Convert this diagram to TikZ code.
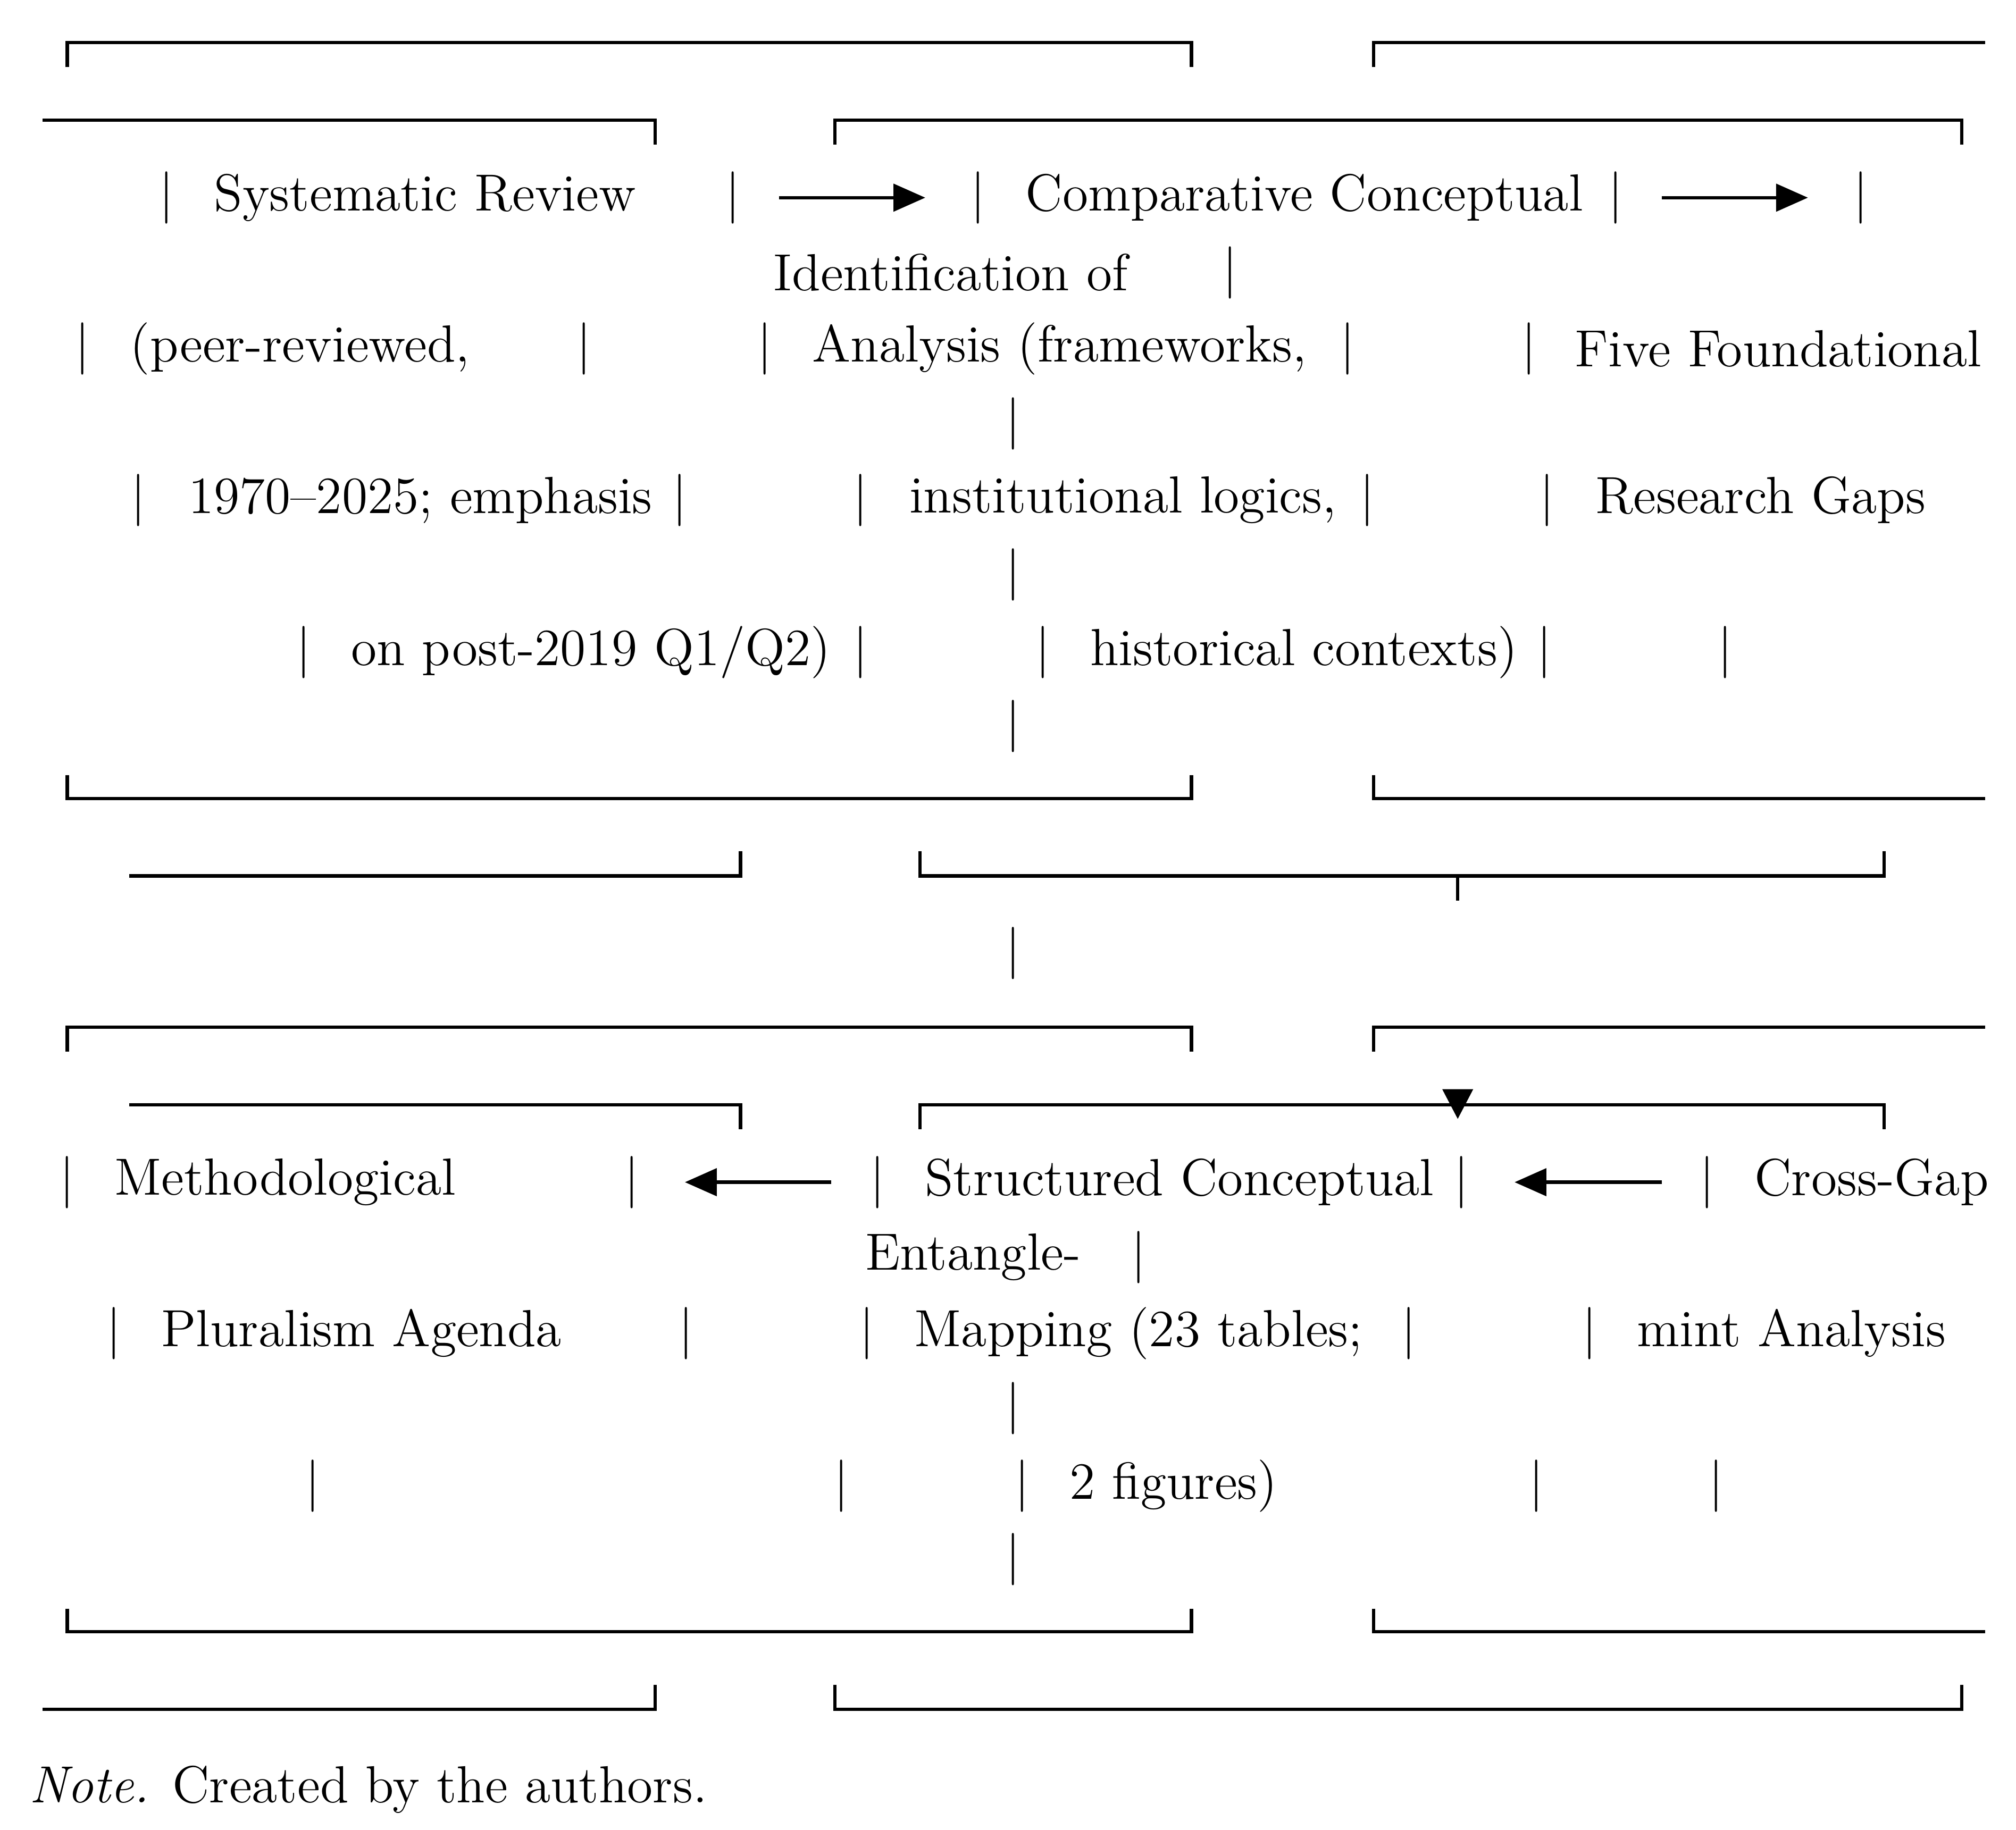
\documentclass[tikz,border=0pt]{standalone}
\usetikzlibrary{arrows.meta}
\tikzset{
  rule/.style={line width=0.75pt},
  txt/.style={anchor=west, inner sep=0pt, font=\fontsize{11.5}{13}\selectfont},
  bar/.style={inner sep=0pt, font=\fontsize{11.5}{13}\selectfont},
  flow/.style={line width=0.75pt, -{Triangle[length=7pt,width=6pt]}}
}
\begin{document}
\begin{tikzpicture}[x=0.01cm, y=-0.01cm]
\useasboundingbox (0,0) rectangle (1560,1416);

% bracket rules, top block
\draw[rule] (52,52) -- (52,33) -- (922,33) -- (922,52);
\draw[rule] (1063,52) -- (1063,33) -- (1536,33);
\draw[rule] (33,93) -- (507,93) -- (507,112);
\draw[rule] (646,112) -- (646,93) -- (1518,93) -- (1518,112);
\draw[rule] (52,600) -- (52,618) -- (922,618) -- (922,600);
\draw[rule] (1063,600) -- (1063,618) -- (1536,618);
\draw[rule] (100,678) -- (573,678) -- (573,659);
\draw[rule] (712,659) -- (712,678) -- (1458,678) -- (1458,659);
\draw[rule] (1128,678) -- (1128,697);

% bracket rules, bottom block
\draw[rule] (52,814) -- (52,795) -- (922,795) -- (922,814);
\draw[rule] (1063,814) -- (1063,795) -- (1536,795);
\draw[rule] (100,855) -- (573,855) -- (573,874);
\draw[rule] (712,874) -- (712,855) -- (1458,855) -- (1458,874);
\draw[rule] (52,1245) -- (52,1263) -- (922,1263) -- (922,1245);
\draw[rule] (1063,1245) -- (1063,1263) -- (1536,1263);
\draw[rule] (33,1323) -- (507,1323) -- (507,1304);
\draw[rule] (646,1304) -- (646,1323) -- (1518,1323) -- (1518,1304);
\fill (1116,843) -- (1140,843) -- (1128,866) -- cycle;

% vertical bars
\foreach \x/\y [count=\i] in {129/153,567/153,757/153,1250/153,1440/153,952/211,
  64/270,452/270,592/270,1043/270,1183/270,784/328,
  107/387,526/387,666/387,1058/387,1197/387,784/445,
  235/505,666/505,807/505,1195/505,1335/505,784/562,784/738,
  52/915,489/915,679/915,1131/915,1321/915,881/973,
  88/1032,531/1032,671/1032,1090/1032,1230/1032,784/1090,
  242/1150,651/1150,791/1150,1189/1150,1328/1150,784/1207}
  \node[bar] (bar\i) at (\x,\y) {|};

% texts
\node[txt] (review) at (165,153) {Systematic Review};
\node[txt] (compare) at (793,153) {Comparative Conceptual};
\node[txt] (identify) at (598,211) {Identification of};
\node[txt] (peer) at (100,270) {(peer-reviewed,};
\node[txt] (analysis) at (628,270) {Analysis (frameworks,};
\node[txt] (five) at (1218,270) {Five Foundational};
\node[txt] (years) at (145,387) {1970--2025; emphasis};
\node[txt] (logics) at (703,387) {institutional logics,};
\node[txt] (gaps) at (1234,387) {Research Gaps};
\node[txt] (post) at (271,505) {on post-2019 Q1/Q2)};
\node[txt] (hist) at (843,505) {historical contexts)};
\node[txt] (method) at (88,915) {Methodological};
\node[txt] (struct) at (715,915) {Structured Conceptual};
\node[txt] (cross) at (1357,915) {Cross-Gap};
\node[txt] (entangle) at (669,973) {Entangle-};
\node[txt] (plural) at (124,1032) {Pluralism Agenda};
\node[txt] (mapping) at (707,1032) {Mapping (23 tables;};
\node[txt] (mint) at (1266,1032) {mint Analysis};
\node[txt] (figs) at (827,1150) {2 figures)};
\node[txt] (note) at (22,1385) {\textit{Note.} Created by the authors.};

% arrows
\coordinate (a1s) at (603,153); \coordinate (a1e) at (716,153);
\coordinate (a2s) at (1286,153); \coordinate (a2e) at (1399,153);
\coordinate (a3s) at (643,915); \coordinate (a3e) at (530,915);
\coordinate (a4s) at (1286,915); \coordinate (a4e) at (1172,915);
\draw[flow] (a1s) -- (a1e);
\draw[flow] (a2s) -- (a2e);
\draw[flow] (a3s) -- (a3e);
\draw[flow] (a4s) -- (a4e);
\end{tikzpicture}
\end{document}
